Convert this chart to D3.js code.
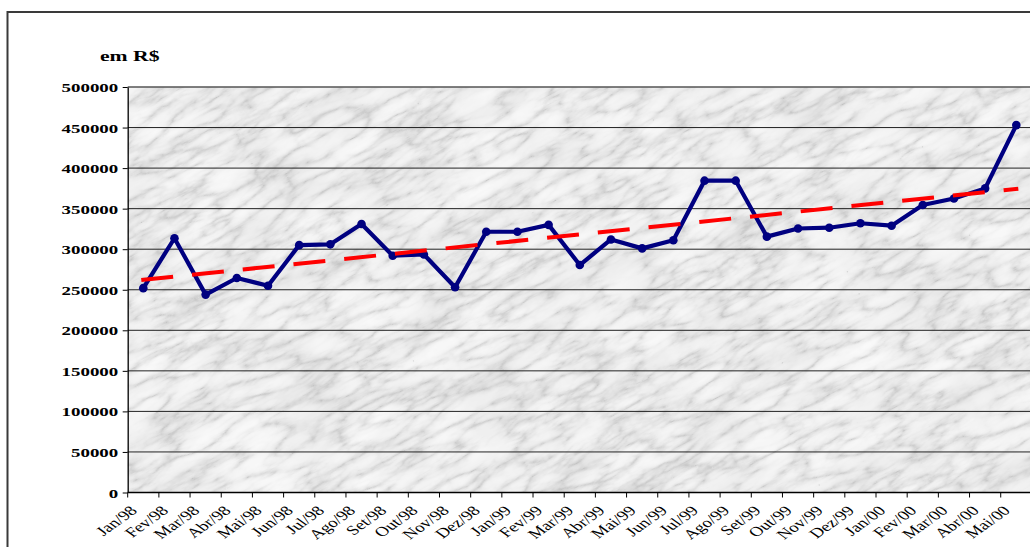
<!DOCTYPE html>
<html>
<head>
<meta charset="utf-8">
<script src="https://cdn.jsdelivr.net/npm/d3@7/dist/d3.min.js"></script>
<style>
  html, body { margin: 0; padding: 0; background: #ffffff; overflow: hidden; }
  svg { display: block; }
  text { font-family: "Liberation Serif", "Times New Roman", serif; fill: #000; }
</style>
</head>
<body>
<svg id="chart" width="1030" height="547"></svg>
<script>
// Monthly revenue (R$), Jan/98 – Mai/00
const months = [
  "Jan/98", "Fev/98", "Mar/98", "Abr/98", "Mai/98", "Jun/98", "Jul/98", "Ago/98",
  "Set/98", "Out/98", "Nov/98", "Dez/98", "Jan/99", "Fev/99", "Mar/99", "Abr/99",
  "Mai/99", "Jun/99", "Jul/99", "Ago/99", "Set/99", "Out/99", "Nov/99", "Dez/99",
  "Jan/00", "Fev/00", "Mar/00", "Abr/00", "Mai/00"
];
const revenue = [
  252000, 313500, 244000, 264500, 255000, 305000, 306000, 331000,
  292000, 293500, 253000, 321500, 321500, 330000, 280500, 312000,
  301000, 311000, 384500, 384500, 315500, 325500, 326500, 332000,
  329000, 354500, 362500, 375000, 453000
];
const yTicks = [0, 50000, 100000, 150000, 200000, 250000, 300000, 350000, 400000, 450000, 500000];
const yUnitLabel = "em R$";

// horizontal stretch applied to all lettering
const SX = 1.4;

const svg = d3.select("#chart");
const plot = { left: 127.7, top: 87, right: 1031.9, bottom: 492.5 };

const x = d3.scaleBand().domain(months).range([plot.left, plot.right]).padding(0);
const y = d3.scaleLinear().domain([0, 500000]).range([plot.bottom, plot.top]);
const cx = d => x(d) + x.bandwidth() / 2;

// outer chart frame
svg.append("rect")
  .attr("x", 7.5).attr("y", 12).attr("width", 1100).attr("height", 600)
  .attr("fill", "#fff").attr("stroke", "#3a3a3a").attr("stroke-width", 2);

// marble texture for the plot area: soft mottling plus thin veins
const defs = svg.append("defs");
const f = defs.append("filter").attr("id", "marble")
  .attr("x", 0).attr("y", 0).attr("width", "100%").attr("height", "100%");
f.append("feTurbulence").attr("type", "fractalNoise")
  .attr("baseFrequency", "0.012 0.03").attr("numOctaves", 4).attr("seed", 4).attr("result", "soft");
f.append("feColorMatrix").attr("in", "soft").attr("type", "matrix")
  .attr("values", "1 0 0 0 0  1 0 0 0 0  1 0 0 0 0  0 0 0 0 1").attr("result", "softG");
const c1 = f.append("feComponentTransfer").attr("in", "softG").attr("result", "softT");
["feFuncR", "feFuncG", "feFuncB"].forEach(fn =>
  c1.append(fn).attr("type", "table").attr("tableValues", "0.80 0.86 0.91 0.95 0.97"));
f.append("feTurbulence").attr("type", "turbulence")
  .attr("baseFrequency", "0.02 0.06").attr("numOctaves", 4).attr("seed", 11).attr("result", "vein");
f.append("feColorMatrix").attr("in", "vein").attr("type", "matrix")
  .attr("values", "1 0 0 0 0  1 0 0 0 0  1 0 0 0 0  0 0 0 0 1").attr("result", "veinG");
const c2 = f.append("feComponentTransfer").attr("in", "veinG").attr("result", "veinT");
["feFuncR", "feFuncG", "feFuncB"].forEach(fn =>
  c2.append(fn).attr("type", "table").attr("tableValues", "0.62 0.82 0.93 0.98 1 1 1"));
f.append("feBlend").attr("in", "softT").attr("in2", "veinT").attr("mode", "multiply");
f.append("feGaussianBlur").attr("stdDeviation", 0.6);

defs.append("clipPath").attr("id", "plotClip")
  .append("rect").attr("x", plot.left).attr("y", plot.top)
  .attr("width", plot.right - plot.left).attr("height", plot.bottom - plot.top);

const bg = svg.append("g").attr("clip-path", "url(#plotClip)");
bg.append("rect")
  .attr("x", plot.left).attr("y", plot.top)
  .attr("width", plot.right - plot.left).attr("height", plot.bottom - plot.top)
  .attr("fill", "#e6e6e6");
bg.append("g")
  .attr("transform", `rotate(-28 ${(plot.left + plot.right) / 2} ${(plot.top + plot.bottom) / 2})`)
  .append("rect")
  .attr("x", plot.left - 300).attr("y", plot.top - 450)
  .attr("width", plot.right - plot.left + 600).attr("height", plot.bottom - plot.top + 900)
  .attr("fill", "#fff").attr("filter", "url(#marble)");

// horizontal gridlines
svg.append("g").selectAll("line").data(yTicks.filter(v => v > 0)).join("line")
  .attr("x1", plot.left).attr("x2", plot.right)
  .attr("y1", d => y(d)).attr("y2", d => y(d))
  .attr("stroke", d => d === 500000 ? "#555" : "#222")
  .attr("stroke-width", d => d === 500000 ? 1.5 : 1);

// y axis
const yAxis = svg.append("g").attr("transform", `translate(${plot.left},0)`)
  .call(d3.axisLeft(y).tickValues(yTicks).tickFormat(d3.format("d")).tickSize(5).tickSizeOuter(0));
yAxis.select(".domain").attr("stroke", "#000").attr("stroke-width", 1.3);
yAxis.selectAll(".tick line").attr("stroke", "#000");
yAxis.selectAll(".tick text")
  .attr("x", null).attr("dy", null)
  .attr("transform", `translate(-9.5,4.5) scale(${SX},1)`)
  .attr("text-anchor", "end")
  .style("font-family", "'Liberation Serif', serif")
  .style("font-size", "13.5px").style("font-weight", "bold");

// x axis: baseline, boundary ticks, rotated month labels
svg.append("line")
  .attr("x1", plot.left).attr("x2", plot.right)
  .attr("y1", plot.bottom).attr("y2", plot.bottom)
  .attr("stroke", "#000").attr("stroke-width", 1.3);
svg.append("g").selectAll("line").data(months).join("line")
  .attr("x1", d => x(d)).attr("x2", d => x(d))
  .attr("y1", plot.bottom).attr("y2", plot.bottom + 5)
  .attr("stroke", "#000");
svg.append("g").selectAll("text").data(months).join("text")
  .attr("transform", d => `translate(${cx(d) - 5},${plot.bottom + 19}) scale(${SX},1) rotate(-45)`)
  .attr("text-anchor", "end")
  .style("font-size", "13.5px")
  .text(d => d);

// unit label
svg.append("text")
  .attr("transform", `translate(100,61) scale(${SX},1)`)
  .style("font-size", "15.5px").style("font-weight", "bold")
  .text(yUnitLabel);

// revenue series
const line = d3.line().x((d, i) => cx(months[i])).y(d => y(d));
svg.append("path").datum(revenue)
  .attr("d", line).attr("fill", "none")
  .attr("stroke", "#000080").attr("stroke-width", 4.2).attr("stroke-linejoin", "round");
svg.append("g").selectAll("circle").data(revenue).join("circle")
  .attr("cx", (d, i) => cx(months[i])).attr("cy", d => y(d)).attr("r", 4.3)
  .attr("fill", "#000080");

// linear trend (least squares over the monthly values)
const n = revenue.length;
const idx = d3.range(n);
const mx = d3.mean(idx), my = d3.mean(revenue);
const slope = d3.sum(idx, i => (i - mx) * (revenue[i] - my)) / d3.sum(idx, i => (i - mx) ** 2);
const intercept = my - slope * mx;
svg.append("line")
  .attr("x1", cx(months[0]) - 2).attr("y1", y(intercept))
  .attr("x2", cx(months[n - 1]) + 2).attr("y2", y(intercept + slope * (n - 1)))
  .attr("stroke", "#ff0000").attr("stroke-width", 4)
  .attr("stroke-dasharray", "32 19");
</script>
</body>
</html>
